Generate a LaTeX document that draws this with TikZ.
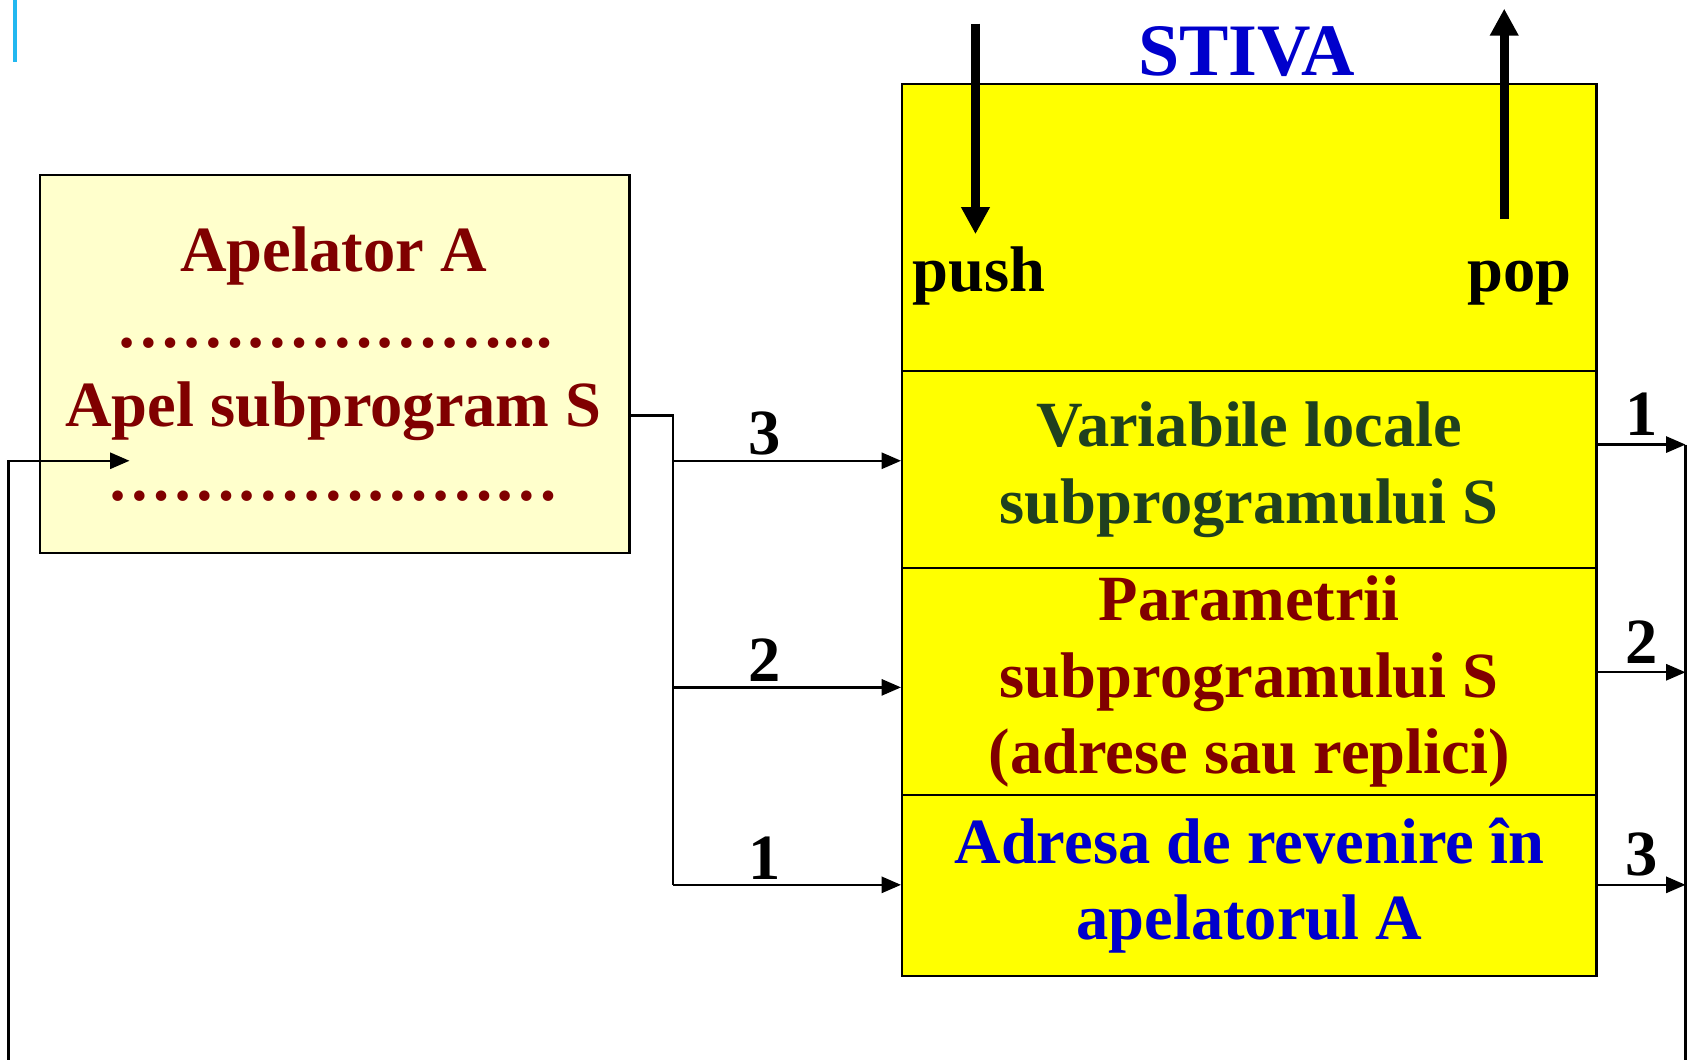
\documentclass[tikz,border=0pt]{standalone}
\usepackage{fontspec}
\setmainfont{Liberation Serif}
\usepackage{tikz}
\usetikzlibrary{arrows.meta}
\definecolor{apelred}{RGB}{128,0,0}
\definecolor{localgreen}{RGB}{31,64,31}
\definecolor{adrblue}{RGB}{0,0,204}
\definecolor{cream}{RGB}{255,255,204}
\definecolor{stackyellow}{RGB}{255,255,0}
\definecolor{barblue}{RGB}{34,184,240}

\begin{document}
\begin{tikzpicture}[x=0.01cm,y=-0.01cm,
    txt/.style={font=\fontsize{17}{20.2}\selectfont\bfseries, inner sep=0pt, align=center},
    nr/.style={font=\fontsize{17}{20}\selectfont\bfseries, inner sep=0pt},
    cell/.style={draw, fill=stackyellow, line width=0.6pt, minimum width=6.43cm, inner sep=0pt, anchor=north west, txt},
    conn/.style={line width=0.6pt, -{Triangle[length=0.18cm,width=0.15cm]}},
    thickarrow/.style={line width=2.4pt, -{Triangle[length=0.25cm,width=0.25cm]}}]
    \useasboundingbox (0,0) rectangle (1568,982);
    \fill[barblue] (12,0) rectangle (16,57);%bar
    % apelator
    \node[draw, fill=cream, line width=0.6pt, minimum width=5.46cm, minimum height=3.5cm, inner sep=0pt, anchor=north west] (apel) at (36,161) {};
    \node[txt, text=apelred, anchor=base] (apeltitle) at (309,252) {Apelator A};
    \node[txt, text=apelred, anchor=base] (dots1) at (310,322) {………………...};
    \node[txt, text=apelred, anchor=base] (apelcall) at (309,395) {Apel subprogram S};
    \node[txt, text=apelred, anchor=base] (dots2) at (309,464) {…………………};
    % stiva
    \node[font=\fontsize{19.5}{22}\selectfont\bfseries, text=adrblue, inner sep=0pt, anchor=base] (stivatitle) at (1155,70) {STIVA};
    \node[cell, minimum height=2.66cm] (top) at (835,77) {};
    \node[cell, minimum height=1.82cm, text=localgreen] (locals) at (835,343) {Variabile locale\\subprogramului S};
    \node[cell, minimum height=2.11cm, text=apelred] (params) at (835,525) {Parametrii\\subprogramului S\\(adrese sau replici)};
    \node[cell, minimum height=1.67cm, text=adrblue] (retaddr) at (835,736) {Adresa de revenire în\\apelatorul A};
    \node[txt, anchor=base west] (pushtxt) at (845,270) {push};
    \node[txt, anchor=base east] (poptxt) at (1457,270) {pop};
    \coordinate (pushin) at (904,22);
    \coordinate (pushend) at (904,217);
    \coordinate (popstart) at (1394,203);
    \coordinate (popout) at (1394,8);
    \draw[thickarrow] (pushin) -- (pushend);
    \draw[thickarrow] (popstart) -- (popout);
    % apel -> stiva
    \coordinate (branch) at (624,385);
    \draw[line width=0.6pt] (apel.east |- branch) -- (branch) -- (branch |- 0,820);
    \foreach \y/\n in {427/3,637/2,820/1}
        \draw[conn] (branch |- 0,\y) -- (top.west |- 0,\y) node[nr, pos=0.4, above=0.04cm] {\n};
    % stiva -> revenire
    \coordinate (rightline) at (1562,412);
    \coordinate (rightbottom) at (1562,982);
    \draw[line width=0.6pt] (rightline) -- (rightbottom);
    \foreach \y/\n in {412/1,623/2,820/3}
        \draw[conn] (top.east |- 0,\y) -- (rightline |- 0,\y) node[nr, midway, above=0.07cm] {\n};
    \coordinate (leftbottom) at (8,982);
    \coordinate (reentry) at (120,427);
    \draw[conn] (leftbottom) |- (reentry);
\end{tikzpicture}
\end{document}
